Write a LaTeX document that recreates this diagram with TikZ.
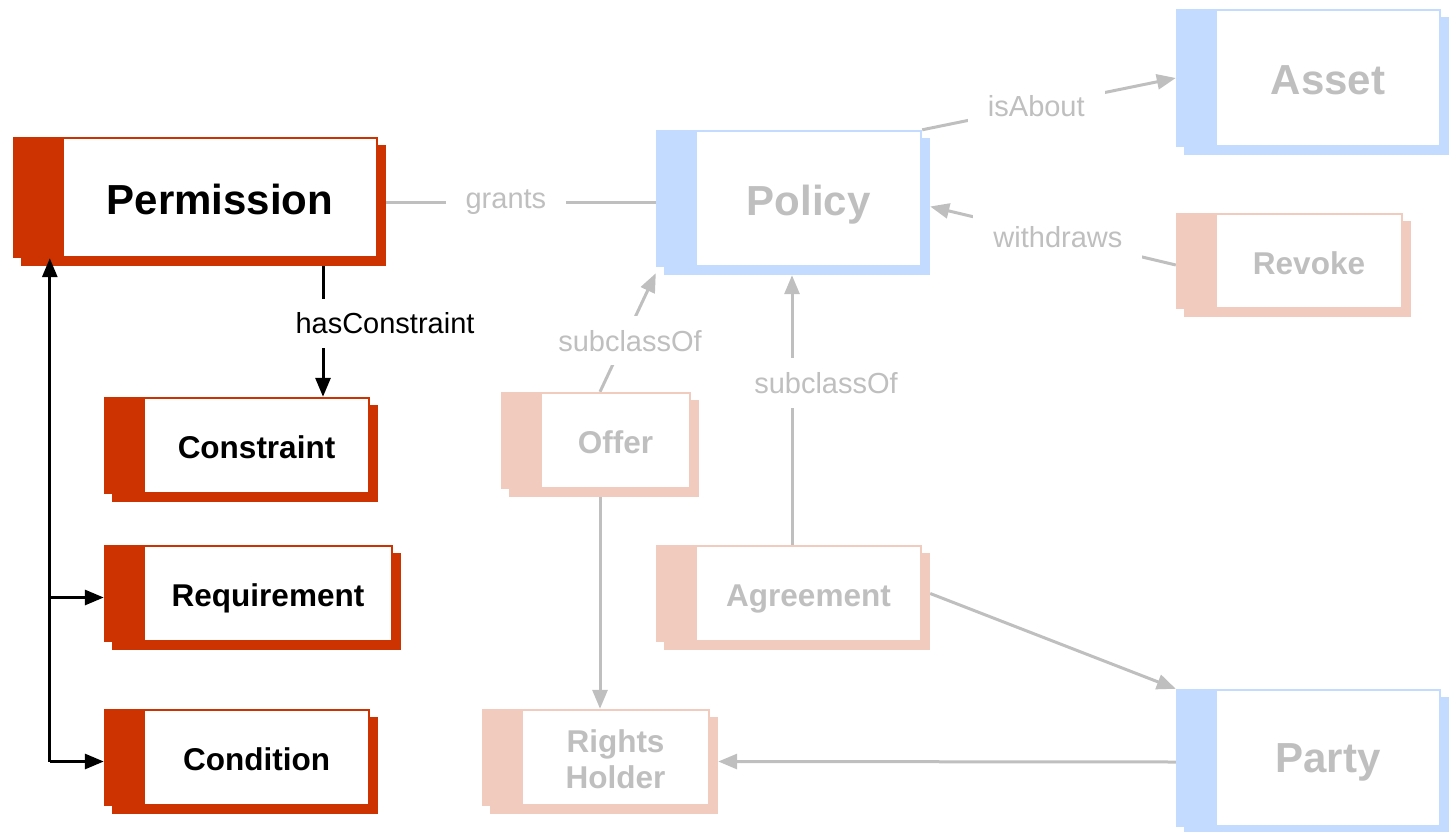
\documentclass[tikz,border=0pt]{standalone}
\usepackage{fontspec}
\setmainfont{Liberation Sans}
\usetikzlibrary{arrows.meta,backgrounds}
\definecolor{accent}{HTML}{CC3300}
\definecolor{peach}{HTML}{F2CBBF}
\definecolor{sky}{HTML}{C2DBFF}
\definecolor{faded}{HTML}{BFBFBF}
\tikzset{
  classbox/.style={rectangle,inner sep=0pt,fill=#1},
  bigname/.style={font=\bfseries\fontsize{42}{48}\selectfont,text=faded,text depth=0pt},
  classname/.style={font=\bfseries\fontsize{31.5}{36}\selectfont,text=faded,align=center,
    text depth=0pt},
  edgelabel/.style={fill=white,text=faded,font=\fontsize{29}{34}\selectfont,
    inner xsep=20pt,inner ysep=14pt},
  relline/.style={draw=faded,line width=3pt},
  relarrow/.style={relline,-{Triangle[length=19pt,width=15pt]}},
  ownarrow/.style={draw=black,line width=3pt,-{Triangle[length=19pt,width=15pt]}}
}
\begin{document}
\begin{tikzpicture}[x=1pt,y=-1pt]
  \useasboundingbox (0,0) rectangle (1453,832);

  % class boxes
  \node[classbox=accent,minimum width=365pt,minimum height=121pt] (perm) at (195.5,197.5) {};
  \node[classbox=accent,minimum width=266pt,minimum height=97pt] (constr) at (237,445.5) {};
  \node[classbox=accent,minimum width=289pt,minimum height=97pt] (require) at (248.5,593.5) {};
  \node[classbox=accent,minimum width=266pt,minimum height=97pt] (cond) at (237,757.5) {};
  \node[classbox=sky,minimum width=266pt,minimum height=137pt] (policy) at (789,198.5) {};
  \node[classbox=sky,minimum width=265pt,minimum height=138pt] (asset) at (1308.5,78) {};
  \node[classbox=sky,minimum width=265pt,minimum height=138pt] (party) at (1308.5,758) {};
  \node[classbox=peach,minimum width=227pt,minimum height=96pt] (revoke) at (1289.5,261) {};
  \node[classbox=peach,minimum width=190pt,minimum height=97pt] (offer) at (596,440.5) {};
  \node[classbox=peach,minimum width=266pt,minimum height=97pt] (agree) at (789,593.5) {};
  \node[classbox=peach,minimum width=228pt,minimum height=97pt] (holder) at (596,757.5) {};

  % relations, kept behind the shadows
  \begin{scope}[on background layer]
    \draw[relline] ([yshift=-5pt]perm.east) -- node[edgelabel,pos=0.46] (grants) {grants}
      ([yshift=-5pt]perm.east -| policy.west);
    \draw[relarrow] (policy.north east) -- node[edgelabel,pos=0.45] (isabout) {isAbout}
      (asset.west);
    \draw[relarrow] ([yshift=-4pt]revoke.west) -- node[edgelabel,pos=0.48] (withdraws) {withdraws}
      ([xshift=8pt,yshift=-8pt]policy.east);
    \draw[relarrow] ([xshift=4pt]offer.north) -- node[edgelabel,pos=0.43,xshift=6pt] (sub1) {subclassOf}
      ([yshift=-6pt]policy.south west);
    \draw[relarrow] ([xshift=3pt]agree.north) -- node[edgelabel,pos=0.6,xshift=34pt] (sub2) {subclassOf}
      ([xshift=3pt,yshift=-8pt]policy.south);
    \draw[relarrow] ([xshift=4pt]offer.south) -- ([xshift=4pt]holder.north);
    \draw[relarrow] ([xshift=8pt]agree.east) -- (party.north west);
    \draw[relarrow] ([yshift=-4pt]party.west) -- ([xshift=8pt,yshift=-4pt]holder.east);
    \draw[ownarrow] ([xshift=127.5pt]perm.south) -- node[edgelabel,text=black,pos=0.47,xshift=62pt] (hascon) {hasConstraint}
      ([xshift=86pt]constr.north);
  \end{scope}

  % shadows and white faces
  \foreach \n/\c/\b in {perm/accent/51,constr/accent/41,require/accent/41,cond/accent/41,
      policy/sky/41,asset/sky/41,party/sky/41,
      revoke/peach/41,offer/peach/41,agree/peach/41,holder/peach/41}{
    \begin{scope}[on background layer]
      \fill[\c] ([shift={(8,8)}]\n.north west) rectangle ([shift={(8,8)}]\n.south east);
    \end{scope}
    \fill[white] ([shift={(\b,2)}]\n.north west) rectangle ([shift={(-2,-2)}]\n.south east);
  }

  % class names
  \node[bigname,text=black] (perm-t) at ([xshift=24.5pt,yshift=-2pt]perm.center) {Permission};
  \node[classname,text=black] (constr-t) at ([xshift=19.5pt,yshift=-2pt]constr.center) {Constraint};
  \node[classname,text=black] (require-t) at ([xshift=19.5pt,yshift=-2pt]require.center) {Requirement};
  \node[classname,text=black] (cond-t) at ([xshift=19.5pt,yshift=-2pt]cond.center) {Condition};
  \node[bigname] (policy-t) at ([xshift=19.5pt,yshift=-2pt]policy.center) {Policy};
  \node[bigname] (asset-t) at ([xshift=19.5pt,yshift=-2pt]asset.center) {Asset};
  \node[bigname] (party-t) at ([xshift=19.5pt]party.center) {Party};
  \node[classname] (revoke-t) at ([xshift=19.5pt,yshift=-2pt]revoke.center) {Revoke};
  \node[classname] (offer-t) at ([xshift=19.5pt,yshift=-2pt]offer.center) {Offer};
  \node[classname] (agree-t) at ([xshift=19.5pt,yshift=-2pt]agree.center) {Agreement};
  \node[classname] (holder-t) at ([xshift=19.5pt,yshift=-2pt]holder.center) {Rights\\Holder};

  % requirement and condition back to permission
  \coordinate (fork) at ([xshift=-54pt,yshift=-4pt]cond.west);
  \draw[ownarrow] (fork) -- (fork |- perm.south);
  \draw[ownarrow] (fork) -- ([yshift=-4pt]cond.west);
  \draw[ownarrow] (fork |- require.west) ++(0,4) -- ([yshift=-4pt]require.west);
\end{tikzpicture}
\end{document}
